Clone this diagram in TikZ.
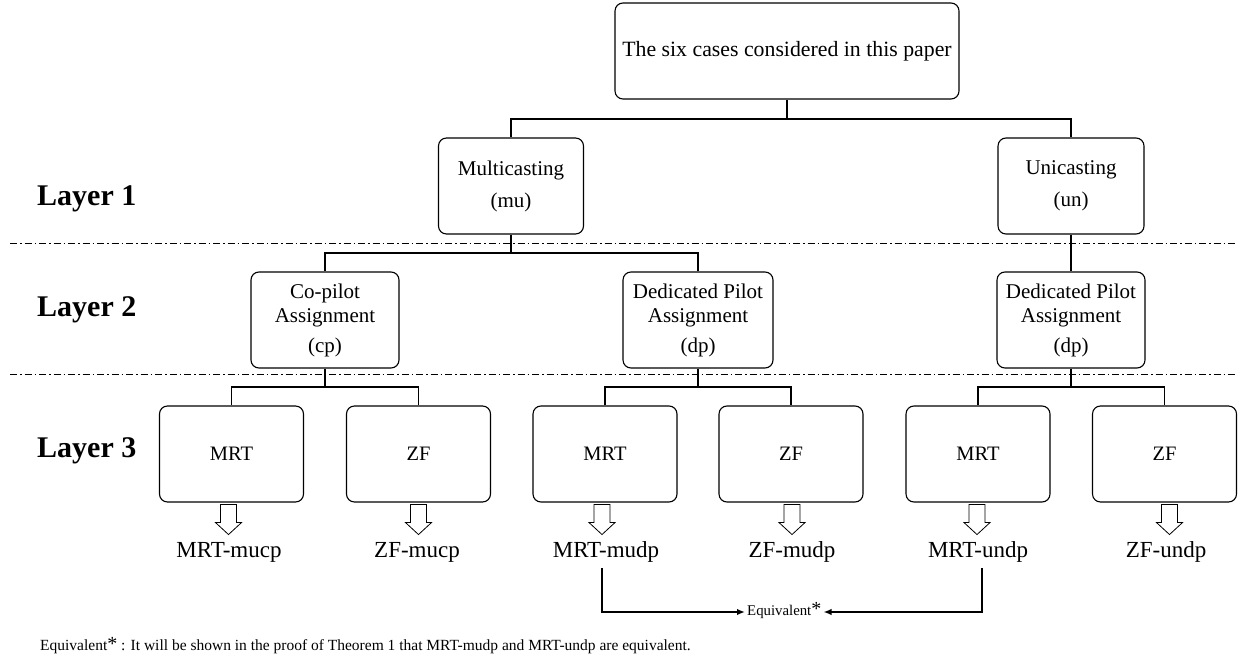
\documentclass[tikz,border=0pt]{standalone}
\usepackage{fontspec}
\setmainfont{Liberation Serif}
\usetikzlibrary{arrows.meta}
\newcommand{\bigast}{\smash{\fontsize{20}{20}\selectfont *}}
\begin{document}
\begin{tikzpicture}[x=1pt,y=-1pt,
  box/.style={draw, rounded corners=8pt, line width=1.1pt, align=center,
    font=\fontsize{21}{24}\selectfont, inner sep=0pt, minimum height=96pt},
  leaf/.style={box, minimum width=144pt, font=\fontsize{20.5}{24}\selectfont},
  conn/.style={line width=1.1pt},
  sep/.style={line width=0.9pt, dash pattern=on 7pt off 3pt on 1.5pt off 3pt},
  hollow/.style={draw, line width=0.8pt, fill=white},
  result/.style={anchor=base, inner sep=0pt, font=\fontsize{23}{26}\selectfont},
  layerlbl/.style={anchor=base west, inner sep=0pt, font=\bfseries\fontsize{30}{32}\selectfont},
  eqline/.style={line width=1.8pt, -{Latex[length=8pt,width=6.5pt]}}
]
\useasboundingbox (0,0) rectangle (1244,660);

% top
\node[box, minimum width=344pt, font=\fontsize{21.8}{24}\selectfont] (top) at (787,51) {The six cases considered in this paper};

% layer 1
\node[box, minimum width=145pt] (mu) at (511,186) {Multicasting\\[8pt](mu)};
\node[box, minimum width=146pt] (un) at (1071,186) {Unicasting\\[8pt](un)};

% layer 2
\node[box, minimum width=148pt] (cp) at (325,320) {Co-pilot\\Assignment\\[6pt](cp)};
\node[box, minimum width=150pt] (dpa) at (698,320) {Dedicated Pilot\\Assignment\\[6pt](dp)};
\node[box, minimum width=148pt] (dpb) at (1071,320) {Dedicated Pilot\\Assignment\\[6pt](dp)};

% layer 3
\node[leaf] (m1) at (231.5,454) {MRT};
\node[leaf] (z1) at (418.5,454) {ZF};
\node[leaf] (m2) at (605,454) {MRT};
\node[leaf] (z2) at (791,454) {ZF};
\node[leaf] (m3) at (978,454) {MRT};
\node[leaf] (z3) at (1164.5,454) {ZF};

% layer labels
\node[layerlbl] (L1) at (37,206) {Layer 1};
\node[layerlbl] (L2) at (37,316) {Layer 2};
\node[layerlbl] (L3) at (37,457) {Layer 3};

% separators
\coordinate (s1a) at (10,243);
\coordinate (s1b) at (1236,243);
\coordinate (s2a) at (10,374);
\coordinate (s2b) at (1236,374);
\draw[sep] (s1a) -- (s1b);
\draw[sep] (s2a) -- (s2b);

% connectors
\draw[conn] (top.south) -- (top.south |- 0,119) -| (mu.north);
\draw[conn] (top.south |- 0,119) -| (un.north);
\draw[conn] (mu.south) -- (mu.south |- 0,253) -| (cp.north);
\draw[conn] (mu.south |- 0,253) -| (dpa.north);
\draw[conn] (un.south) -- (dpb.north);
\draw[conn] (cp.south) -- (cp.south |- 0,387) -| (m1.north);
\draw[conn] (cp.south |- 0,387) -| (z1.north);
\draw[conn] (dpa.south) -- (dpa.south |- 0,387) -| (m2.north);
\draw[conn] (dpa.south |- 0,387) -| (z2.north);
\draw[conn] (dpb.south) -- (dpb.south |- 0,387) -| (m3.north);
\draw[conn] (dpb.south |- 0,387) -| (z3.north);

% hollow arrows
\foreach \b/\s in {m1/-3, z1/0, m2/-3, z2/1, m3/-1, z3/5} {
  \draw[hollow] ([xshift=\s pt]\b.south) ++(-8,2) -- ++(0,18) -- ++(-5,0)
    -- ++(13,12) -- ++(13,-12) -- ++(-5,0) -- ++(0,-18) -- cycle;
}

% results
\node[result] (r1) at (229,557) {MRT-mucp};
\node[result] (r2) at (417,557) {ZF-mucp};
\node[result] (r3) at (606,557) {MRT-mudp};
\node[result] (r4) at (792,557) {ZF-mudp};
\node[result] (r5) at (978,557) {MRT-undp};
\node[result] (r6) at (1166,557) {ZF-undp};

% equivalence
\node[anchor=west, inner sep=2pt, font=\fontsize{14.8}{16}\selectfont] (eq) at (745,612) {Equivalent\bigast};
\draw[eqline] ([xshift=-4pt]r3.south |- 0,568) |- (eq.west);
\draw[eqline] ([xshift=4pt]r5.south |- 0,568) |- (eq.east);

% footnote
\node[anchor=base west, inner sep=0pt, font=\fontsize{15.5}{17}\selectfont] (fn) at (40,650)
  {Equivalent\bigast\ : It will be shown in the proof of Theorem 1 that MRT-mudp and MRT-undp are equivalent.};
\end{tikzpicture}
\end{document}
